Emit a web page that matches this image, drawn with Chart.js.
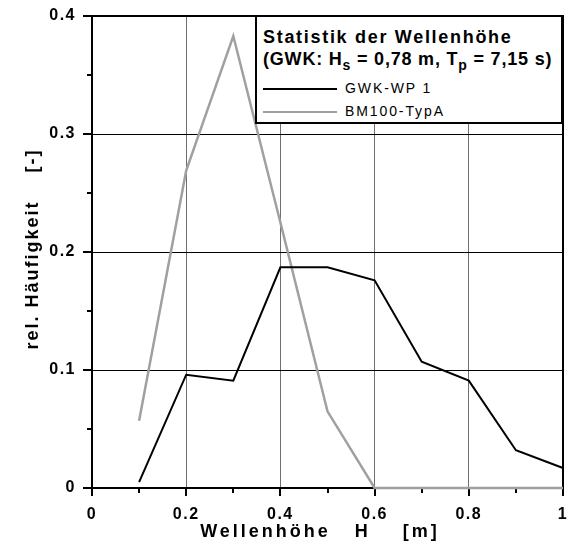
<!DOCTYPE html>
<html>
<head>
<meta charset="utf-8">
<script src="https://cdn.jsdelivr.net/npm/chart.js@4/dist/chart.umd.min.js"></script>
<style>
  body { margin: 0; background: #fff; }
  #wrap { position: relative; width: 576px; height: 552px; }
  #legendBox {
    position: absolute; left: 255px; top: 15px; width: 304px; height: 105px;
    border: 2px solid #000; background: #fff;
    font-family: "Liberation Sans", Arial, sans-serif; color: #000;
  }
  .ttl { position: absolute; left: 6px; font-weight: bold; font-size: 18px; line-height: 20px; white-space: nowrap; }
  .ttl sub { font-size: 14px; vertical-align: -5px; line-height: 0; }
  .entry { position: absolute; left: 6px; font-size: 14px; line-height: 16px; letter-spacing: 1.9px; white-space: nowrap; }
  .entry span.ln { display: inline-block; width: 74px; height: 0; border-top: 2px solid; vertical-align: middle; margin-right: 8px; }
</style>
</head>
<body>
<div id="wrap">
  <canvas id="myChart" width="576" height="552"></canvas>
  <div id="legendBox">
    <div class="ttl" style="top:10px; letter-spacing:1.7px">Statistik der Wellenhöhe</div>
    <div class="ttl" style="top:32px; letter-spacing:0.8px">(GWK: H<sub>s</sub> = 0,78 m, T<sub>p</sub> = 7,15 s)</div>
    <div class="entry" style="top:63px"><span class="ln" style="border-color:#000"></span>GWK-WP 1</div>
    <div class="entry" style="top:86px"><span class="ln" style="border-color:#a0a0a0"></span>BM100-TypA</div>
  </div>
</div>
<script>
const waveHeights = [0.1, 0.2, 0.3, 0.4, 0.5, 0.6, 0.7, 0.8, 0.9, 1.0];
const gwkWp1 = [0.005, 0.096, 0.091, 0.187, 0.187, 0.176, 0.107, 0.091, 0.032, 0.017];
const bm100TypA = [0.057, 0.269, 0.383, 0.225, 0.065, 0, 0, 0, 0, 0];
const xTicks = [0, 0.2, 0.4, 0.6, 0.8, 1];
const yTicks = [0, 0.1, 0.2, 0.3, 0.4];

const tickFont = { family: '"Liberation Sans", Arial, sans-serif', size: 16, weight: 'bold' };

function isMajor(v, step) {
  return Math.abs(v / step - Math.round(v / step)) < 1e-6;
}

// frame, tick marks and axis titles; drawn before the lines so the grey series sits on the axis
const framePlugin = {
  id: 'frame',
  beforeLayout(chart) { chart.ctx.letterSpacing = '1.5px'; },
  beforeDraw(chart) { chart.ctx.letterSpacing = '1.5px'; },
  beforeDatasetsDraw(chart) {
    const ctx = chart.ctx;
    const a = chart.chartArea;
    const xs = chart.scales.x, ys = chart.scales.y;
    ctx.save();
    ctx.strokeStyle = '#000';
    ctx.lineWidth = 2;
    ctx.strokeRect(a.left, a.top, a.right - a.left, a.bottom - a.top);
    ctx.beginPath();
    for (let i = 0; i <= 10; i++) {
      const v = i / 10;
      const px = Math.round(xs.getPixelForValue(v));
      const len = isMajor(v, 0.2) ? 8 : 5;
      ctx.moveTo(px, a.bottom); ctx.lineTo(px, a.bottom + len);
    }
    for (let i = 0; i <= 8; i++) {
      const v = i / 20;
      const py = Math.round(ys.getPixelForValue(v));
      const len = isMajor(v, 0.1) ? 9 : 5;
      ctx.moveTo(a.left, py); ctx.lineTo(a.left - len, py);
    }
    ctx.stroke();

    ctx.fillStyle = '#000';
    ctx.font = 'bold 18px "Liberation Sans", Arial, sans-serif';
    ctx.textAlign = 'center';
    ctx.textBaseline = 'alphabetic';
    ctx.letterSpacing = '3px';
    ctx.fillText('Wellenhöhe   H    [m]', 320, 537);
    ctx.translate(38, 249);
    ctx.rotate(-Math.PI / 2);
    ctx.letterSpacing = '2px';
    ctx.fillText('rel. Häufigkeit    [-]', 0, 0);
    ctx.restore();
  }
};

const chart = new Chart(document.getElementById('myChart'), {
  type: 'line',
  data: {
    datasets: [
      {
        label: 'GWK-WP 1',
        data: waveHeights.map((x, i) => ({ x: x, y: gwkWp1[i] })),
        borderColor: '#000',
        borderWidth: 2,
        pointRadius: 0,
        tension: 0,
        clip: false
      },
      {
        label: 'BM100-TypA',
        data: waveHeights.map((x, i) => ({ x: x, y: bm100TypA[i] })),
        borderColor: '#a0a0a0',
        borderWidth: 2.5,
        pointRadius: 0,
        tension: 0,
        clip: false
      }
    ]
  },
  options: {
    responsive: false,
    animation: false,
    layout: { padding: { top: 16, right: 13, left: 0, bottom: 0 } },
    plugins: { legend: { display: false }, tooltip: { enabled: false } },
    scales: {
      x: {
        type: 'linear', min: 0, max: 1,
        afterBuildTicks: (s) => { s.ticks = xTicks.map(v => ({ value: v })); },
        afterFit: (s) => { s.height = 64; s.paddingLeft = 0; s.paddingRight = 0; },
        ticks: {
          color: '#000', font: tickFont, padding: 17, maxRotation: 0,
          callback: (v) => String(Math.round(v * 10) / 10)
        },
        grid: {
          drawTicks: false,
          color: (c) => (c.tick && (c.tick.value === 0 || c.tick.value === 1)) ? 'rgba(0,0,0,0)' : '#707070',
          lineWidth: 1
        },
        border: { color: '#000', width: 2 }
      },
      y: {
        type: 'linear', min: 0, max: 0.4,
        afterBuildTicks: (s) => { s.ticks = yTicks.map(v => ({ value: v })); },
        afterFit: (s) => { s.width = 92; s.paddingTop = 0; s.paddingBottom = 0; },
        ticks: {
          color: '#000', font: tickFont, padding: 16,
          callback: (v) => String(Math.round(v * 10) / 10)
        },
        grid: {
          drawTicks: false,
          color: (c) => (c.tick && (c.tick.value === 0 || c.tick.value > 0.35)) ? 'rgba(0,0,0,0)' : '#000',
          lineWidth: 1
        },
        border: { color: '#000', width: 2 }
      }
    }
  },
  plugins: [framePlugin]
});
</script>
</body>
</html>
